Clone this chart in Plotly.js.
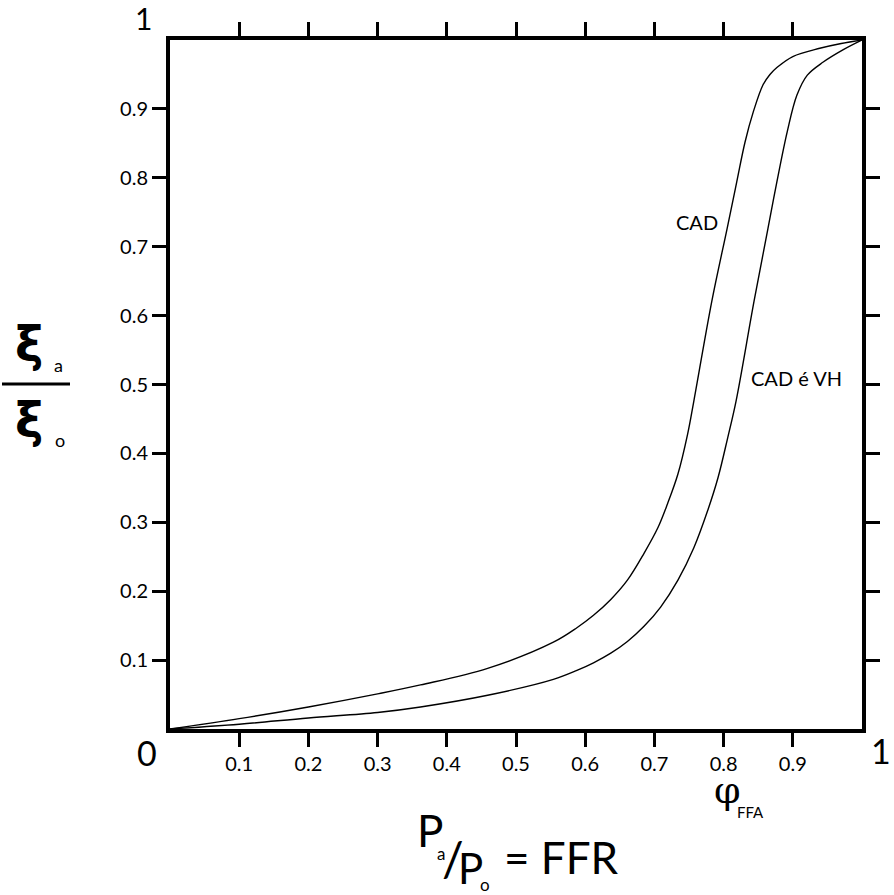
<!DOCTYPE html>
<html>
<head>
<meta charset="utf-8">
<script src="https://cdn.plot.ly/plotly-3.0.1.min.js"></script>
<style>
  body { margin: 0; background: #fff; }
  #chart { width: 894px; height: 895px; }
</style>
</head>
<body>
<div id="chart"></div>
<script>
// values
var cadX = [0, 0.1, 0.2, 0.3, 0.362, 0.459, 0.554, 0.588, 0.612, 0.637, 0.661, 0.685, 0.705, 0.719, 0.734, 0.748, 0.757, 0.783, 0.805, 0.819, 0.831, 0.843, 0.857, 0.867, 0.877, 0.9, 0.939, 0.97, 1];
var cadY = [0, 0.015, 0.032, 0.051, 0.064, 0.088, 0.126, 0.147, 0.165, 0.188, 0.216, 0.255, 0.292, 0.327, 0.37, 0.428, 0.476, 0.621, 0.726, 0.794, 0.852, 0.896, 0.935, 0.95, 0.96, 0.976, 0.988, 0.995, 1];
var vhX = [0, 0.1, 0.2, 0.3, 0.362, 0.459, 0.554, 0.588, 0.612, 0.637, 0.661, 0.685, 0.709, 0.734, 0.757, 0.777, 0.792, 0.806, 0.818, 0.844, 0.864, 0.877, 0.892, 0.906, 0.921, 0.944, 0.973, 1];
var vhY = [0, 0.007, 0.016, 0.024, 0.032, 0.049, 0.072, 0.085, 0.096, 0.11, 0.127, 0.149, 0.177, 0.216, 0.263, 0.317, 0.365, 0.423, 0.476, 0.621, 0.726, 0.794, 0.867, 0.92, 0.949, 0.968, 0.986, 1];
var tickVals = [0.1, 0.2, 0.3, 0.4, 0.5, 0.6, 0.7, 0.8, 0.9];
var tickText = ["0.1", "0.2", "0.3", "0.4", "0.5", "0.6", "0.7", "0.8", "0.9"];

var FONT = "Lato, 'Open Sans', sans-serif";

// pixel -> paper helpers (plot area is 170..862 by 40..729)
function px(x) { return (x - 170) / 692; }
function py(y) { return (729 - y) / 689; }

function label(text, x, y, size, extra) {
  var a = {
    text: text, xref: "paper", yref: "paper", x: px(x), y: py(y),
    xanchor: "center", yanchor: "middle", showarrow: false,
    font: { family: FONT, size: size, color: "#000" }
  };
  for (var k in extra) a[k] = extra[k];
  return a;
}

var axis = {
  range: [0, 1],
  showline: true,
  linewidth: 4,
  linecolor: "#000",
  mirror: "ticks",
  ticks: "outside",
  ticklen: 14,
  tickwidth: 3,
  tickcolor: "#000",
  tickvals: tickVals,
  ticktext: tickText,
  tickfont: { family: FONT, size: 20, color: "#000" },
  showgrid: false,
  zeroline: false,
  fixedrange: true
};

var traces = [
  {
    x: cadX, y: cadY, mode: "lines", name: "CAD",
    line: { color: "#000", width: 1.4, shape: "spline", smoothing: 1 }
  },
  {
    x: vhX, y: vhY, mode: "lines", name: "CAD é VH",
    line: { color: "#000", width: 1.4, shape: "spline", smoothing: 1 }
  }
];

var annotations = [
  label("CAD", 697, 222, 20),
  label("CAD é VH", 796, 378, 20),
  label("1", 143, 18, 30),
  label("0", 147, 752, 34),
  label("1", 881, 750, 34),
  // phi_FFA
  label("φ", 727, 790, 38, { font: { family: "DejaVu Serif", size: 38, color: "#000" } }),
  label("FFA", 750, 812, 15),
  // Pa/Po = FFR
  label("P", 430, 830, 44),
  label("a", 441, 853, 17),
  label("/", 453, 858, 48),
  label("P", 470, 868, 42),
  label("o", 485, 884, 17),
  label("= FFR", 561, 857, 44),
  // xi_a / xi_o
  label("ξ", 29, 344, 48, { font: { family: "DejaVu Sans", size: 48, color: "#000", weight: "bold" } }),
  label("a", 58, 365, 18),
  label("ξ", 29, 420, 48, { font: { family: "DejaVu Sans", size: 48, color: "#000", weight: "bold" } }),
  label("o", 60, 440, 18)
];

var layout = {
  width: 894,
  height: 895,
  margin: { l: 170, r: 32, t: 40, b: 166 },
  paper_bgcolor: "#fff",
  plot_bgcolor: "#fff",
  showlegend: false,
  xaxis: axis,
  yaxis: Object.assign({}, axis),
  annotations: annotations,
  shapes: [
    {
      type: "line", xref: "paper", yref: "paper",
      x0: px(2), x1: px(70), y0: py(384), y1: py(384),
      line: { color: "#000", width: 3 }
    }
  ]
};

Plotly.newPlot("chart", traces, layout, { displayModeBar: false, staticPlot: true });
</script>
</body>
</html>
